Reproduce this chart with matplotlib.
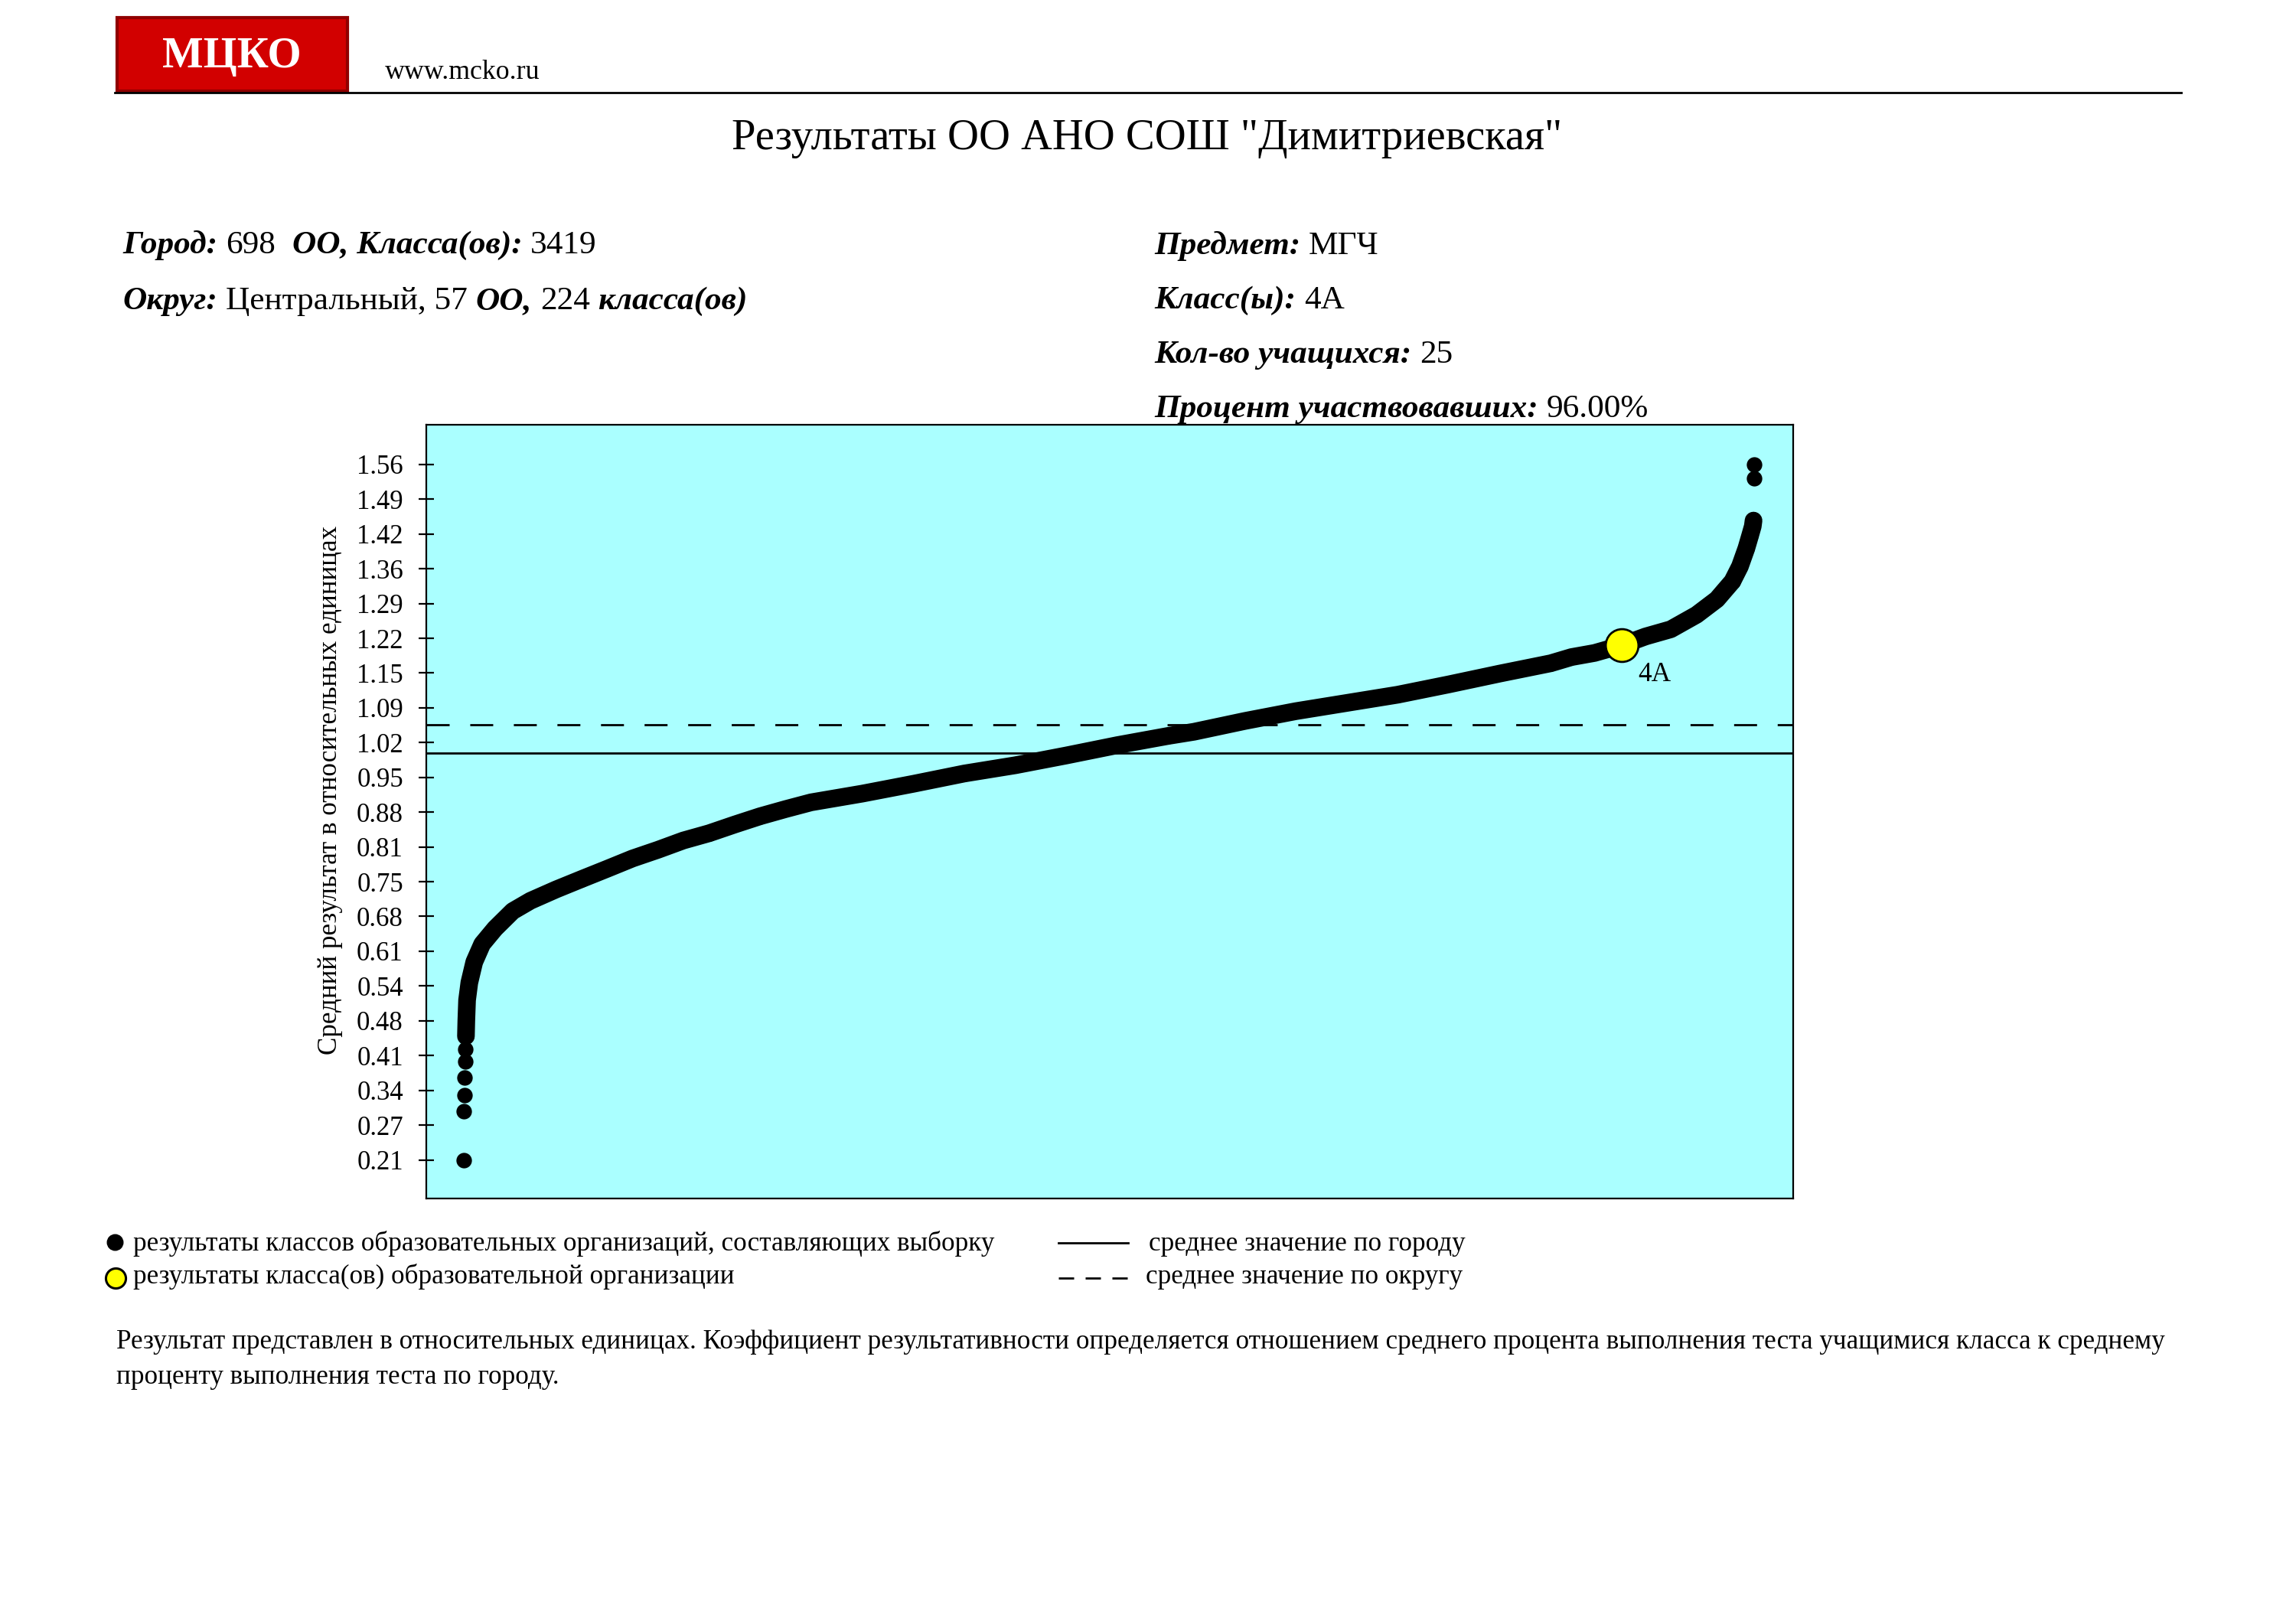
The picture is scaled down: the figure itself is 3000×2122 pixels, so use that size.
import numpy as np
import matplotlib
matplotlib.use("Agg")
import matplotlib.pyplot as plt
from matplotlib.patches import Rectangle
from matplotlib.lines import Line2D

plt.rcParams['font.family'] = ['Liberation Serif', 'DejaVu Serif']

# --- data ---------------------------------------------------------------
# classes sorted by result (rank 1..3419), values in relative units
low_rank = [1, 2, 3, 4, 5, 6]
low_value = [0.21, 0.305, 0.335, 0.370, 0.401, 0.425]

curve_rank = [7, 8, 10, 16, 29, 50, 84, 131, 178, 246, 313, 381, 448, 516,
              583, 651, 719, 786, 854, 921, 1057, 1192, 1327, 1462, 1597,
              1732, 1867, 1935, 2070, 2205, 2340, 2475, 2610, 2745, 2880,
              2935, 2996, 3068, 3131, 3198, 3266, 3320, 3361, 3381, 3398,
              3408, 3415, 3417]
curve_value = [0.450, 0.480, 0.520, 0.554, 0.594, 0.629, 0.659, 0.693, 0.713,
               0.735, 0.755, 0.775, 0.795, 0.812, 0.830, 0.844, 0.861, 0.877,
               0.891, 0.904, 0.921, 0.940, 0.960, 0.976, 0.995, 1.015, 1.033,
               1.041, 1.062, 1.081, 1.097, 1.113, 1.133, 1.154, 1.174, 1.186,
               1.194, 1.209, 1.226, 1.240, 1.268, 1.298, 1.333, 1.362, 1.397,
               1.422, 1.440, 1.451]

top_rank = [3418, 3419]
top_value = [1.533, 1.560]

n_classes = 3419
school_rank = 3068
school_value = 1.209
school_label = "4А"

city_mean = 1.0
district_mean = 1.054

tick_labels = ["0.21", "0.27", "0.34", "0.41", "0.48", "0.54", "0.61", "0.68",
               "0.75", "0.81", "0.88", "0.95", "1.02", "1.09", "1.15", "1.22",
               "1.29", "1.36", "1.42", "1.49", "1.56"]

# --- figure in pixel units ------------------------------------------------
W, H, DPI = 3000, 2122, 200
fig = plt.figure(figsize=(W / DPI, H / DPI), dpi=DPI)
renderer = fig.canvas.get_renderer()


def fx(px):
    return px / W


def fy(py):
    return 1 - py / H


STYLES = {
    "r": {},
    "b": {"fontweight": "bold"},
    "bi": {"fontweight": "bold", "fontstyle": "italic"},
}


def piece_width(s, size, style):
    # advance width of s (spaces included), measured between two x's
    a = fig.text(0, 0, "x" + s + "x", fontsize=size, **STYLES[style])
    b = fig.text(0, 0, "xx", fontsize=size, **STYLES[style])
    w = a.get_window_extent(renderer).width - b.get_window_extent(renderer).width
    a.remove()
    b.remove()
    return w


def fit_size(pieces, target):
    w = sum(piece_width(s, 10, st) for s, st in pieces)
    return 10 * target / w


def draw_line(x, y, pieces, size, **kw):
    for s, st in pieces:
        core = s.lstrip(" ")
        lead = len(s) - len(core)
        x0 = x + (piece_width(" " * lead, size, st) if lead else 0)
        fig.text(fx(x0), fy(y), core.rstrip(" "), fontsize=size,
                 ha="left", va="baseline", **STYLES[st], **kw)
        x += piece_width(s, size, st)


# --- header ---------------------------------------------------------------
fig.add_artist(Rectangle((fx(153), fy(119)), (454 - 153) / W, (119 - 23) / H,
                         transform=fig.transFigure, facecolor="#D20000",
                         edgecolor="#900000", lw=1.5))
logo = [("МЦКО", "b")]
draw_line(212, 88, logo, fit_size(logo, 181), color="white")

site = [("www.mcko.ru", "r")]
draw_line(503, 103, site, fit_size(site, 202))

fig.add_artist(Line2D([fx(150), fx(2850)], [fy(121), fy(121)],
                      transform=fig.transFigure, color="black", lw=1.0))

title = "Результаты ОО АНО СОШ \"Димитриевская\""
fig.text(fx(1499), fy(195), title, ha="center", va="baseline",
         fontsize=fit_size([(title, "r")], 1085))

# --- info block -----------------------------------------------------------
info_left = [
    [("Город:", "bi"), (" 698  ", "r"), ("ОО, Класса(ов):", "bi"), (" 3419", "r")],
    [("Округ:", "bi"), (" Центральный, 57 ", "r"), ("ОО,", "bi"), (" 224 ", "r"),
     ("класса(ов)", "bi")],
]
info_right = [
    [("Предмет:", "bi"), (" МГЧ", "r")],
    [("Класс(ы):", "bi"), (" 4А", "r")],
    [("Кол-во учащихся:", "bi"), (" 25", "r")],
    [("Процент участвовавших:", "bi"), (" 96.00%", "r")],
]
info_size = fit_size(info_right[3], 646)
for line, y in zip(info_left, [331, 404]):
    draw_line(160, y, line, info_size)
for line, y in zip(info_right, [332, 403, 474, 545]):
    draw_line(1508, y, line, info_size)

# --- chart ----------------------------------------------------------------
ax = fig.add_axes([fx(557), fy(1566), (2343 - 557) / W, (1566 - 555) / H])
ax.set_facecolor("#AAFFFF")
for sp in ax.spines.values():
    sp.set_linewidth(0.8)

ax.axhline(city_mean, color="black", lw=1.0, zorder=2)
ax.axhline(district_mean, color="black", lw=1.0, ls=(0, (10.8, 9.7)), zorder=2)

dot = 7.3  # marker diameter in points
ax.plot(curve_rank, curve_value, color="black", lw=8.3,
        solid_capstyle="round", solid_joinstyle="round", zorder=3)
ax.scatter(low_rank + curve_rank + top_rank, low_value + curve_value + top_value,
           s=dot ** 2, color="black", linewidths=0, zorder=3)

ax.plot([school_rank], [school_value], "o", ms=15.4, mfc="#FFFF00",
        mec="black", mew=1.0, zorder=4)
ax.annotate(school_label, (school_rank, school_value), xytext=(7.8, -7.8),
            textcoords="offset points", ha="left", va="top", fontsize=12.7)

tick_pos = np.linspace(0.21, 1.56, len(tick_labels))
ax.set_yticks(tick_pos, tick_labels)
ax.tick_params(axis="y", direction="inout", length=7.3, width=0.8, pad=7.2,
               labelsize=12.5)
ax.set_xticks([])
ax.set_xlim(-98, n_classes + 103)
ax.set_ylim(0.135, 1.637)

ylab = "Средний результат в относительных единицах"
fig.text(fx(431), fy(1032), ylab, rotation=90, ha="center", va="center",
         fontsize=fit_size([(ylab, "r")], 691))

# --- legend ---------------------------------------------------------------
leg1 = "результаты классов образовательных организаций, составляющих выборку"
leg2 = "результаты класса(ов) образовательной организации"
leg3 = "среднее значение по городу"
leg4 = "среднее значение по округу"
leg_size = fit_size([(leg1, "r")], 1125)

fig.add_artist(Line2D([fx(150)], [fy(1623)], transform=fig.transFigure,
                      marker="o", ms=6.9, color="black", lw=0))
fig.add_artist(Line2D([fx(151)], [fy(1670)], transform=fig.transFigure,
                      marker="o", ms=9.4, mfc="#FFFF00", mec="black", mew=1.1, lw=0))
draw_line(174, 1634, [(leg1, "r")], leg_size)
draw_line(174, 1677, [(leg2, "r")], leg_size)

fig.add_artist(Line2D([fx(1383), fx(1474)], [fy(1624), fy(1624)],
                      transform=fig.transFigure, color="black", lw=1.0))
fig.add_artist(Line2D([fx(1383), fx(1474)], [fy(1670), fy(1670)],
                      transform=fig.transFigure, color="black", lw=1.0,
                      ls=(0, (7.2, 5.4))))
draw_line(1501, 1634, [(leg3, "r")], leg_size)
draw_line(1497, 1677, [(leg4, "r")], leg_size)

# --- footnote -------------------------------------------------------------
note1 = ("Результат представлен в относительных единицах. Коэффициент "
         "результативности определяется отношением среднего процента "
         "выполнения теста учащимися класса к среднему")
note2 = "проценту выполнения теста по городу."
note_size = fit_size([(note1, "r")], 2675)
draw_line(152, 1762, [(note1, "r")], note_size)
draw_line(152, 1808, [(note2, "r")], note_size)

fig.savefig("out.png", dpi=DPI, facecolor="white")
